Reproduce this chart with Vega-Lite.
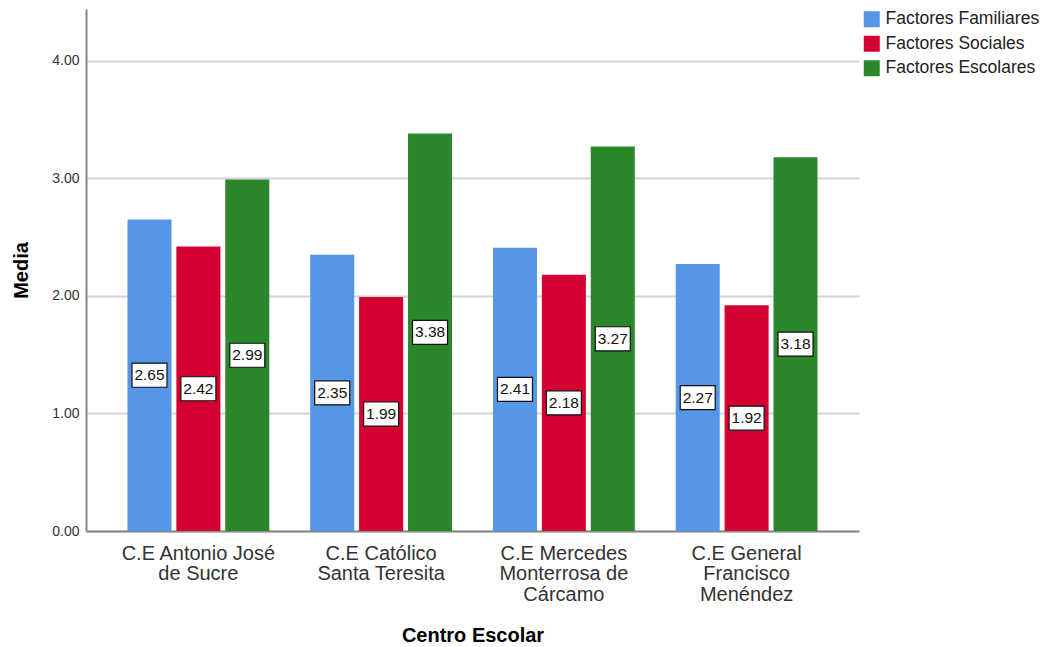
{
  "$schema": "https://vega.github.io/schema/vega-lite/v6.json",
  "autosize": "none",
  "width": 773,
  "height": 522,
  "padding": {"left": 86, "top": 9, "right": 185, "bottom": 116},
  "background": "white",
  "config": {
    "font": "Liberation Sans",
    "view": {"stroke": null},
    "axis": {"labelFont": "Liberation Sans", "titleFont": "Liberation Sans"}
  },
  "data": {
    "values": [
      {"centro": "C.E Antonio José de Sucre", "factor": "Factores Familiares", "media": 2.65},
      {"centro": "C.E Antonio José de Sucre", "factor": "Factores Sociales", "media": 2.42},
      {"centro": "C.E Antonio José de Sucre", "factor": "Factores Escolares", "media": 2.99},
      {"centro": "C.E Católico Santa Teresita", "factor": "Factores Familiares", "media": 2.35},
      {"centro": "C.E Católico Santa Teresita", "factor": "Factores Sociales", "media": 1.99},
      {"centro": "C.E Católico Santa Teresita", "factor": "Factores Escolares", "media": 3.38},
      {"centro": "C.E Mercedes Monterrosa de Cárcamo", "factor": "Factores Familiares", "media": 2.41},
      {"centro": "C.E Mercedes Monterrosa de Cárcamo", "factor": "Factores Sociales", "media": 2.18},
      {"centro": "C.E Mercedes Monterrosa de Cárcamo", "factor": "Factores Escolares", "media": 3.27},
      {"centro": "C.E General Francisco Menéndez", "factor": "Factores Familiares", "media": 2.27},
      {"centro": "C.E General Francisco Menéndez", "factor": "Factores Sociales", "media": 1.92},
      {"centro": "C.E General Francisco Menéndez", "factor": "Factores Escolares", "media": 3.18}
    ]
  },
  "encoding": {
    "x": {
      "field": "centro",
      "type": "nominal",
      "sort": null,
      "scale": {"paddingInner": 0.224, "paddingOuter": 0.227},
      "axis": {
        "title": "Centro Escolar",
        "titleFontSize": 20,
        "titleFontWeight": "bold",
        "titleColor": "#000000",
        "titlePadding": 21,
        "labelAngle": 0,
        "labelFontSize": 20,
        "labelColor": "#333333",
        "labelLineHeight": 20.5,
        "labelPadding": 12,
        "labelBaseline": "top",
        "ticks": false,
        "domainColor": "#888888",
        "domainWidth": 2,
        "grid": false,
        "labelExpr": "datum.value == 'C.E Antonio José de Sucre' ? ['C.E Antonio José', 'de Sucre'] : datum.value == 'C.E Católico Santa Teresita' ? ['C.E Católico', 'Santa Teresita'] : datum.value == 'C.E Mercedes Monterrosa de Cárcamo' ? ['C.E Mercedes', 'Monterrosa de', 'Cárcamo'] : ['C.E General', 'Francisco', 'Menéndez']"
      }
    },
    "xOffset": {
      "field": "factor",
      "type": "nominal",
      "sort": ["Factores Familiares", "Factores Sociales", "Factores Escolares"],
      "scale": {"paddingInner": 0.1, "paddingOuter": 0}
    }
  },
  "layer": [
    {
      "mark": {"type": "bar"},
      "encoding": {
        "y": {
          "field": "media",
          "type": "quantitative",
          "scale": {"domain": [0, 4.44], "nice": false},
          "axis": {
            "title": "Media",
            "titleFontSize": 20,
            "titleFontWeight": "bold",
            "titleColor": "#000000",
            "titlePadding": 20,
            "values": [0, 1, 2, 3, 4],
            "format": ".2f",
            "labelFontSize": 14,
            "labelColor": "#333333",
            "labelPadding": 7,
            "ticks": false,
            "domainColor": "#888888",
            "domainWidth": 2,
            "grid": true,
            "gridColor": "#d4d4d4",
            "gridWidth": 2
          }
        },
        "color": {
          "field": "factor",
          "type": "nominal",
          "scale": {
            "domain": ["Factores Familiares", "Factores Sociales", "Factores Escolares"],
            "range": ["#5596E6", "#D50032", "#2B872B"]
          },
          "legend": {
            "title": null,
            "orient": "none",
            "legendX": 777,
            "legendY": 1.5,
            "symbolType": "square",
            "symbolSize": 256,
            "symbolStrokeWidth": 0,
            "labelFontSize": 17.5,
            "labelColor": "#222222",
            "labelOffset": 5,
            "rowPadding": 5.5
          }
        }
      }
    },
    {
      "mark": {
        "type": "point",
        "shape": "M-1,-0.686L1,-0.686L1,0.686L-1,0.686Z",
        "size": 1225,
        "filled": true,
        "fill": "white",
        "stroke": "#111111",
        "strokeWidth": 1.2,
        "opacity": 1
      },
      "encoding": {
        "y": {
          "field": "media",
          "type": "quantitative",
          "scale": {"domain": [0, 8.88], "nice": false},
          "axis": null
        }
      }
    },
    {
      "mark": {"type": "text", "fontSize": 15.5, "color": "#111111", "baseline": "middle", "align": "center"},
      "encoding": {
        "y": {
          "field": "media",
          "type": "quantitative",
          "scale": {"domain": [0, 8.88], "nice": false},
          "axis": null
        },
        "text": {"field": "media", "type": "quantitative", "format": ".2f"}
      }
    }
  ],
  "resolve": {"scale": {"y": "independent"}}
}
